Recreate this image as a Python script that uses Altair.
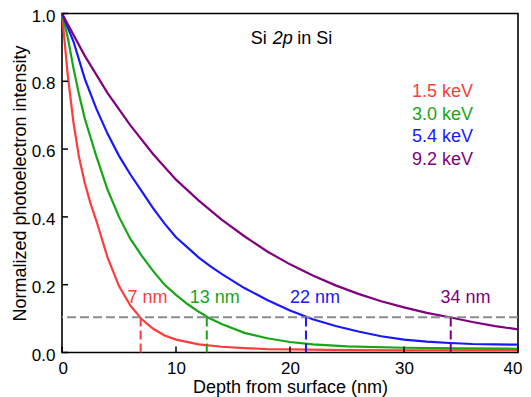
import altair as alt
import pandas as pd

# ---------------- data ----------------
energy_labels = ["1.5 keV", "3.0 keV", "5.4 keV", "9.2 keV"]
series_colors = ["#ff3b3b", "#16a616", "#1818ff", "#800080"]

depth_15 = [0, 0.5, 1, 1.5, 2, 2.5, 3, 4, 5, 6, 7, 8, 9, 10, 12, 14, 16, 18, 20, 25, 30, 35, 40]
int_15 = [1.0, 0.82, 0.68, 0.575, 0.50, 0.44, 0.39, 0.28, 0.196, 0.138, 0.098, 0.07, 0.05, 0.038,
          0.024, 0.017, 0.013, 0.010, 0.009, 0.007, 0.006, 0.006, 0.006]

depth_30 = [0, 0.5, 1, 1.5, 2, 2.5, 3, 4, 5, 6, 7, 8, 9, 10, 11, 12, 13, 14, 16, 18, 20, 22, 25, 30, 35, 40]
int_30 = [1.0, 0.93, 0.84, 0.76, 0.69, 0.635, 0.58, 0.48, 0.40, 0.335, 0.285, 0.24, 0.20, 0.17, 0.143,
          0.12, 0.10, 0.084, 0.058, 0.042, 0.031, 0.024, 0.018, 0.014, 0.012, 0.011]

depth_54 = [0, 1, 2, 3, 4, 5, 6, 7, 8, 9, 10, 11, 12, 13, 14, 16, 18, 20, 22, 24, 26, 28, 30, 32, 34, 36, 38, 40]
int_54 = [1.0, 0.918, 0.807, 0.72, 0.645, 0.58, 0.525, 0.475, 0.425, 0.38, 0.34, 0.31, 0.28, 0.255, 0.232,
          0.19, 0.155, 0.124, 0.098, 0.078, 0.062, 0.048, 0.038, 0.032, 0.028, 0.025, 0.024, 0.023]

depth_92 = [0, 2, 4, 6, 8, 10, 12, 14, 16, 18, 20, 22, 24, 26, 28, 30, 32, 34, 36, 38, 40]
int_92 = [1.0, 0.875, 0.765, 0.67, 0.585, 0.51, 0.448, 0.392, 0.343, 0.298, 0.26, 0.227, 0.198, 0.173,
          0.151, 0.133, 0.117, 0.104, 0.09, 0.078, 0.068]

threshold = 0.104
cross_depth = [6.9, 12.7, 21.4, 34.1]
cross_labels = ["7 nm", "13 nm", "22 nm", "34 nm"]
cross_label_x = [7.5, 13.4, 22.2, 35.4]
cross_label_y = [0.145, 0.145, 0.145, 0.145]

key_x = [30.7, 30.7, 30.7, 30.7]
key_y = [0.753, 0.686, 0.622, 0.553]

title_parts = ["Si", "2p", "in Si"]
title_x = [16.55, 18.48, 20.64]
title_y = [0.909, 0.909, 0.909]
title_italic = [False, True, False]

x_ticks = [0, 10, 20, 30, 40]
y_ticks = [0.0, 0.2, 0.4, 0.6, 0.8, 1.0]

# ---------------- tables ----------------
rows = []
for lab, ds, vs in zip(energy_labels, [depth_15, depth_30, depth_54, depth_92], [int_15, int_30, int_54, int_92]):
    for d, v in zip(ds, vs):
        rows.append({"energy": lab, "x": d, "y": v})
curves = pd.DataFrame(rows)

cross = pd.DataFrame({"energy": energy_labels, "x": cross_depth, "y": [0.0] * 4, "y2": [threshold] * 4})
cross_text = pd.DataFrame({"energy": energy_labels, "x": cross_label_x, "y": cross_label_y, "label": cross_labels})
keys = pd.DataFrame({"energy": energy_labels, "x": key_x, "y": key_y, "label": energy_labels})
title_df = pd.DataFrame({"x": title_x, "y": title_y, "label": title_parts, "italic": title_italic})
thr_df = pd.DataFrame({"y": [threshold]})
xt_df = pd.DataFrame({"x": x_ticks})
yt_df = pd.DataFrame({"y": y_ticks})

FONT = "Liberation Sans"
W, H = 456, 339

xs = alt.Scale(domain=[0, 40], nice=False, zero=False)
ys = alt.Scale(domain=[0, 1], nice=False, zero=False)
cs = alt.Scale(domain=energy_labels, range=series_colors)

x_axis = alt.Axis(values=x_ticks, format="d", ticks=False, domain=False, grid=False,
                  labelFontSize=17, labelPadding=8, labelColor="black", labelFont=FONT,
                  labelFlush=True, labelFlushOffset=4,
                  title="Depth from surface (nm)", titleFontSize=18, titleFontWeight="normal",
                  titleColor="black", titleFont=FONT, titleBaseline="alphabetic", titleY=40)
y_axis = alt.Axis(values=y_ticks, format=".1f", ticks=False, domain=False, grid=False,
                  labelFontSize=17, labelPadding=7, labelOffset=2.5, labelColor="black", labelFont=FONT,
                  title="Normalized photoelectron intensity", titleFontSize=18, titleFontWeight="normal",
                  titleColor="black", titleFont=FONT, titleBaseline="alphabetic", titleX=-37)

base_curves = alt.Chart(curves).mark_line(strokeWidth=2.2).encode(
    x=alt.X("x:Q", scale=xs, axis=x_axis),
    y=alt.Y("y:Q", scale=ys, axis=y_axis),
    color=alt.Color("energy:N", scale=cs, legend=None),
    detail="energy:N",
    order=alt.Order("x:Q"),
)

thr_rule = alt.Chart(thr_df).mark_rule(stroke="#8c8c8c", strokeWidth=2, strokeDash=[9, 4]).encode(
    y=alt.Y("y:Q", scale=ys)
)

cross_rules = alt.Chart(cross).mark_rule(strokeWidth=2, strokeDash=[9, 4]).encode(
    x=alt.X("x:Q", scale=xs),
    y=alt.Y("y:Q", scale=ys),
    y2="y2:Q",
    color=alt.Color("energy:N", scale=cs, legend=None),
)

cross_lbl = alt.Chart(cross_text).mark_text(font=FONT, fontSize=18, align="center", baseline="alphabetic").encode(
    x=alt.X("x:Q", scale=xs),
    y=alt.Y("y:Q", scale=ys),
    text="label:N",
    color=alt.Color("energy:N", scale=cs, legend=None),
)

key_lbl = alt.Chart(keys).mark_text(font=FONT, fontSize=18, align="left", baseline="alphabetic").encode(
    x=alt.X("x:Q", scale=xs),
    y=alt.Y("y:Q", scale=ys),
    text="label:N",
    color=alt.Color("energy:N", scale=cs, legend=None),
)

title_normal = alt.Chart(title_df).transform_filter("!datum.italic").mark_text(
    font=FONT, fontSize=18, align="left", baseline="alphabetic", color="black"
).encode(x=alt.X("x:Q", scale=xs), y=alt.Y("y:Q", scale=ys), text="label:N")

title_ital = alt.Chart(title_df).transform_filter("datum.italic").mark_text(
    font=FONT, fontSize=18, align="left", baseline="alphabetic", color="black", fontStyle="italic"
).encode(x=alt.X("x:Q", scale=xs), y=alt.Y("y:Q", scale=ys), text="label:N")

x_tick_marks = alt.Chart(xt_df).mark_rule(color="black", strokeWidth=1.5).encode(
    x=alt.X("x:Q", scale=xs), y=alt.value(H), y2=alt.value(H - 6)
)
y_tick_marks = alt.Chart(yt_df).mark_rule(color="black", strokeWidth=1.5).encode(
    y=alt.Y("y:Q", scale=ys), x=alt.value(0), x2=alt.value(6)
)

chart = alt.layer(
    base_curves, thr_rule, cross_rules, cross_lbl, key_lbl, title_normal, title_ital,
    x_tick_marks, y_tick_marks
).properties(
    width=W, height=H,
    autosize=alt.AutoSizeParams(type="none"),
    padding={"left": 54, "top": 5.5, "right": 5, "bottom": 44.5},
    background="white",
).configure_view(
    stroke="black", strokeWidth=1.6
)

chart.save("out.html", embed_options={"renderer": "svg", "actions": False})
